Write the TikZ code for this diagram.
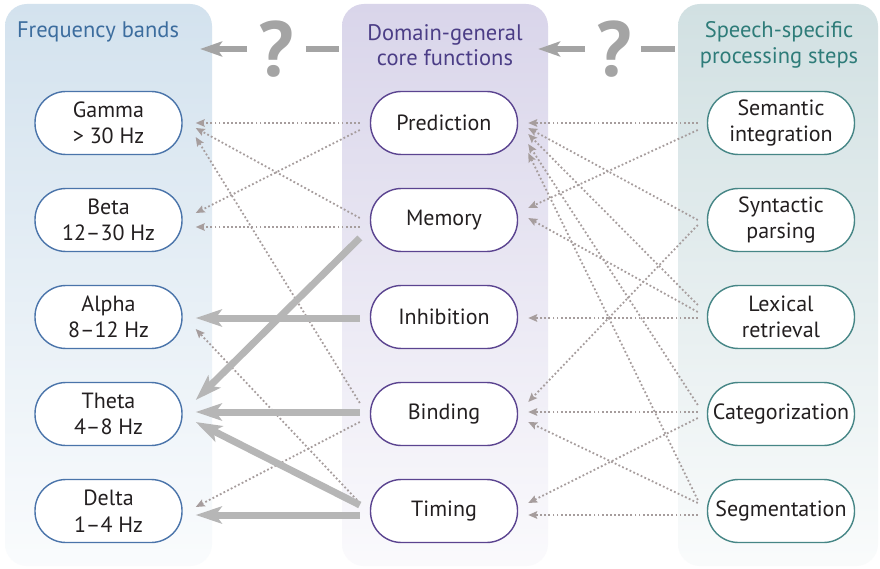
\documentclass[tikz,border=0pt]{standalone}
\usepackage{fontspec}
\setmainfont{PT Sans}
\usetikzlibrary{arrows.meta,calc}

% panel and line colours
\definecolor{bandtop}{HTML}{D3E2EE}
\definecolor{coretop}{HTML}{D9D5EA}
\definecolor{speechtop}{HTML}{D1E0E2}
\definecolor{bandline}{HTML}{4A74AA}
\definecolor{coreline}{HTML}{5B4490}
\definecolor{speechline}{HTML}{468686}
\definecolor{bandtext}{HTML}{3C6D9E}
\definecolor{coretext}{HTML}{4B3D86}
\definecolor{speechtext}{HTML}{2E7C79}
\definecolor{ink}{HTML}{231F20}
\definecolor{thickc}{HTML}{B6B6B6}
\definecolor{dotc}{HTML}{A69D9D}
\definecolor{qgray}{HTML}{A4A4A4}

\begin{document}
\begin{tikzpicture}[x=1pt,y=-1pt,
  panel/.style={rounded corners=22pt},
  title/.style={font=\fontsize{22.5}{25.5}\selectfont, align=center, inner sep=0pt},
  pill/.style={fill=white, line width=1.4pt, rounded corners=31pt,
    minimum width=147pt, minimum height=63pt, inner sep=0pt, align=center,
    text=ink, font=\fontsize{22}{26.5}\selectfont},
  bandbox/.style={pill, draw=bandline},
  corebox/.style={pill, draw=coreline},
  speechbox/.style={pill, draw=speechline},
  dotarr/.style={draw=dotc, line width=1.8pt, dash pattern=on 1.8pt off 2.3pt,
    -{Stealth[length=9pt,width=7.5pt,inset=1.5pt]}},
  thickarr/.style={draw=thickc, line width=7pt,
    -{Stealth[length=26pt,width=17pt,inset=6pt]}},
  toparr/.style={draw=qgray, line width=6pt,
    -{Stealth[length=22pt,width=15pt,inset=5pt]}},
  topdash/.style={draw=qgray, line width=6pt},
  qmark/.style={text=qgray, font=\fontsize{78}{78}\bfseries\selectfont, inner sep=0pt}
]
\useasboundingbox (0,0) rectangle (880,569);
\fill[white] (0,0) rectangle (880,569);

% the three column panels, fading towards the bottom
\shade[panel, top color=bandtop, middle color=bandtop!80!white, bottom color=bandtop!12!white] (5,4) rectangle (212,566);
\shade[panel, top color=coretop, middle color=coretop!80!white, bottom color=coretop!12!white] (342,4) rectangle (548,566);
\shade[panel, top color=speechtop, middle color=speechtop!80!white, bottom color=speechtop!12!white] (678,4) rectangle (878,566);

% column titles
\node[title, text=bandtext] (tband) at (98,32) {Frequency bands};
\node[title, text=coretext] (tcore) at (445,45) {Domain-general\\core functions};
\node[title, text=speechtext] (tspeech) at (779,45) {Speech-specific\\processing steps};

% question marks with arrows between the columns
\node[qmark] (q1) at (276,49) {?};
\node[qmark] (q2) at (614,49) {?};
\draw[toparr] ($(q1.west)+(-11,0)$) -- ($(q1.west)+(-58,0)$);
\draw[topdash] ($(q1.east)+(12,0)$) -- ($(q1.east)+(45,0)$);
\draw[toparr] ($(q2.west)+(-11,0)$) -- ($(q2.west)+(-58,0)$);
\draw[topdash] ($(q2.east)+(9,0)$) -- ($(q2.east)+(43,0)$);

% frequency bands
\node[bandbox] (gam) at (108.5,123) {Gamma\\> 30 Hz};
\node[bandbox] (bet) at (108.5,220) {Beta\\12–30 Hz};
\node[bandbox] (alp) at (108.5,317) {Alpha\\8–12 Hz};
\node[bandbox] (the) at (108.5,414) {Theta\\4–8 Hz};
\node[bandbox] (del) at (108.5,511) {Delta\\1–4 Hz};

% core functions
\node[corebox] (pred) at (444,123) {Prediction};
\node[corebox] (mem)  at (444,220) {Memory};
\node[corebox] (inh)  at (444,317) {Inhibition};
\node[corebox] (bind) at (444,414) {Binding};
\node[corebox] (tim)  at (444,511) {Timing};

% speech processing steps
\node[speechbox] (sem) at (781,123) {Semantic\\integration};
\node[speechbox] (syn) at (781,220) {Syntactic\\parsing};
\node[speechbox] (lex) at (781,317) {Lexical\\retrieval};
\node[speechbox] (cat) at (781,414) {Categorization};
\node[speechbox] (seg) at (781,511) {Segmentation};

% core functions -> frequency bands (weak links)
\draw[dotarr] ($(pred.west)+(-10,0)$)  -- ($(gam.east)+(13,0)$);
\draw[dotarr] ($(pred.west)+(-10,7)$)  -- ($(bet.east)+(13,-7)$);
\draw[dotarr] ($(mem.west)+(-10,-2)$)  -- ($(gam.east)+(13,5)$);
\draw[dotarr] ($(mem.west)+(-10,7)$)   -- ($(bet.east)+(13,7)$);
\draw[dotarr] ($(bind.west)+(-10,-11)$) -- ($(gam.east)+(13,14)$);
\draw[dotarr] ($(tim.west)+(-10,-8)$)  -- ($(alp.east)+(13,12)$);
\draw[dotarr] ($(bind.west)+(-10,8)$)  -- ($(del.east)+(13,-4)$);

% core functions -> frequency bands (strong links)
\draw[thickarr] ($(mem.west)+(-10,18)$)  -- ($(the.east)+(13,-14)$);
\draw[thickarr] ($(inh.west)+(-10,1)$)   -- ($(alp.east)+(13,1)$);
\draw[thickarr] ($(bind.west)+(-10,-2)$) -- ($(the.east)+(13,-2)$);
\draw[thickarr] ($(tim.west)+(-10,-6)$)  -- ($(the.east)+(13,8)$);
\draw[thickarr] ($(tim.west)+(-10,4)$)   -- ($(del.east)+(13,4)$);

% speech processing steps -> core functions
\draw[dotarr] ($(sem.west)+(-9,0)$)   -- ($(pred.east)+(10,0)$);
\draw[dotarr] ($(syn.west)+(-9,0)$)   -- ($(pred.east)+(10,5)$);
\draw[dotarr] ($(lex.west)+(-9,-12)$) -- ($(pred.east)+(10,11)$);
\draw[dotarr] ($(cat.west)+(-9,-9)$)  -- ($(pred.east)+(10,21)$);
\draw[dotarr] ($(seg.west)+(-9,-11)$) -- ($(pred.east)+(10,30)$);
\draw[dotarr] ($(sem.west)+(-9,7)$)   -- ($(mem.east)+(10,-12)$);
\draw[dotarr] ($(lex.west)+(-9,-5)$)  -- ($(mem.east)+(10,-2)$);
\draw[dotarr] ($(lex.west)+(-9,1)$)   -- ($(inh.east)+(10,1)$);
\draw[dotarr] ($(syn.west)+(-9,5)$)   -- ($(bind.east)+(10,-12)$);
\draw[dotarr] ($(cat.west)+(-9,-2)$)  -- ($(bind.east)+(10,-2)$);
\draw[dotarr] ($(seg.west)+(-9,-8)$)  -- ($(bind.east)+(10,8)$);
\draw[dotarr] ($(cat.west)+(-9,4)$)   -- ($(tim.east)+(10,-8)$);
\draw[dotarr] ($(seg.west)+(-9,4)$)   -- ($(tim.east)+(10,4)$);
\end{tikzpicture}
\end{document}
